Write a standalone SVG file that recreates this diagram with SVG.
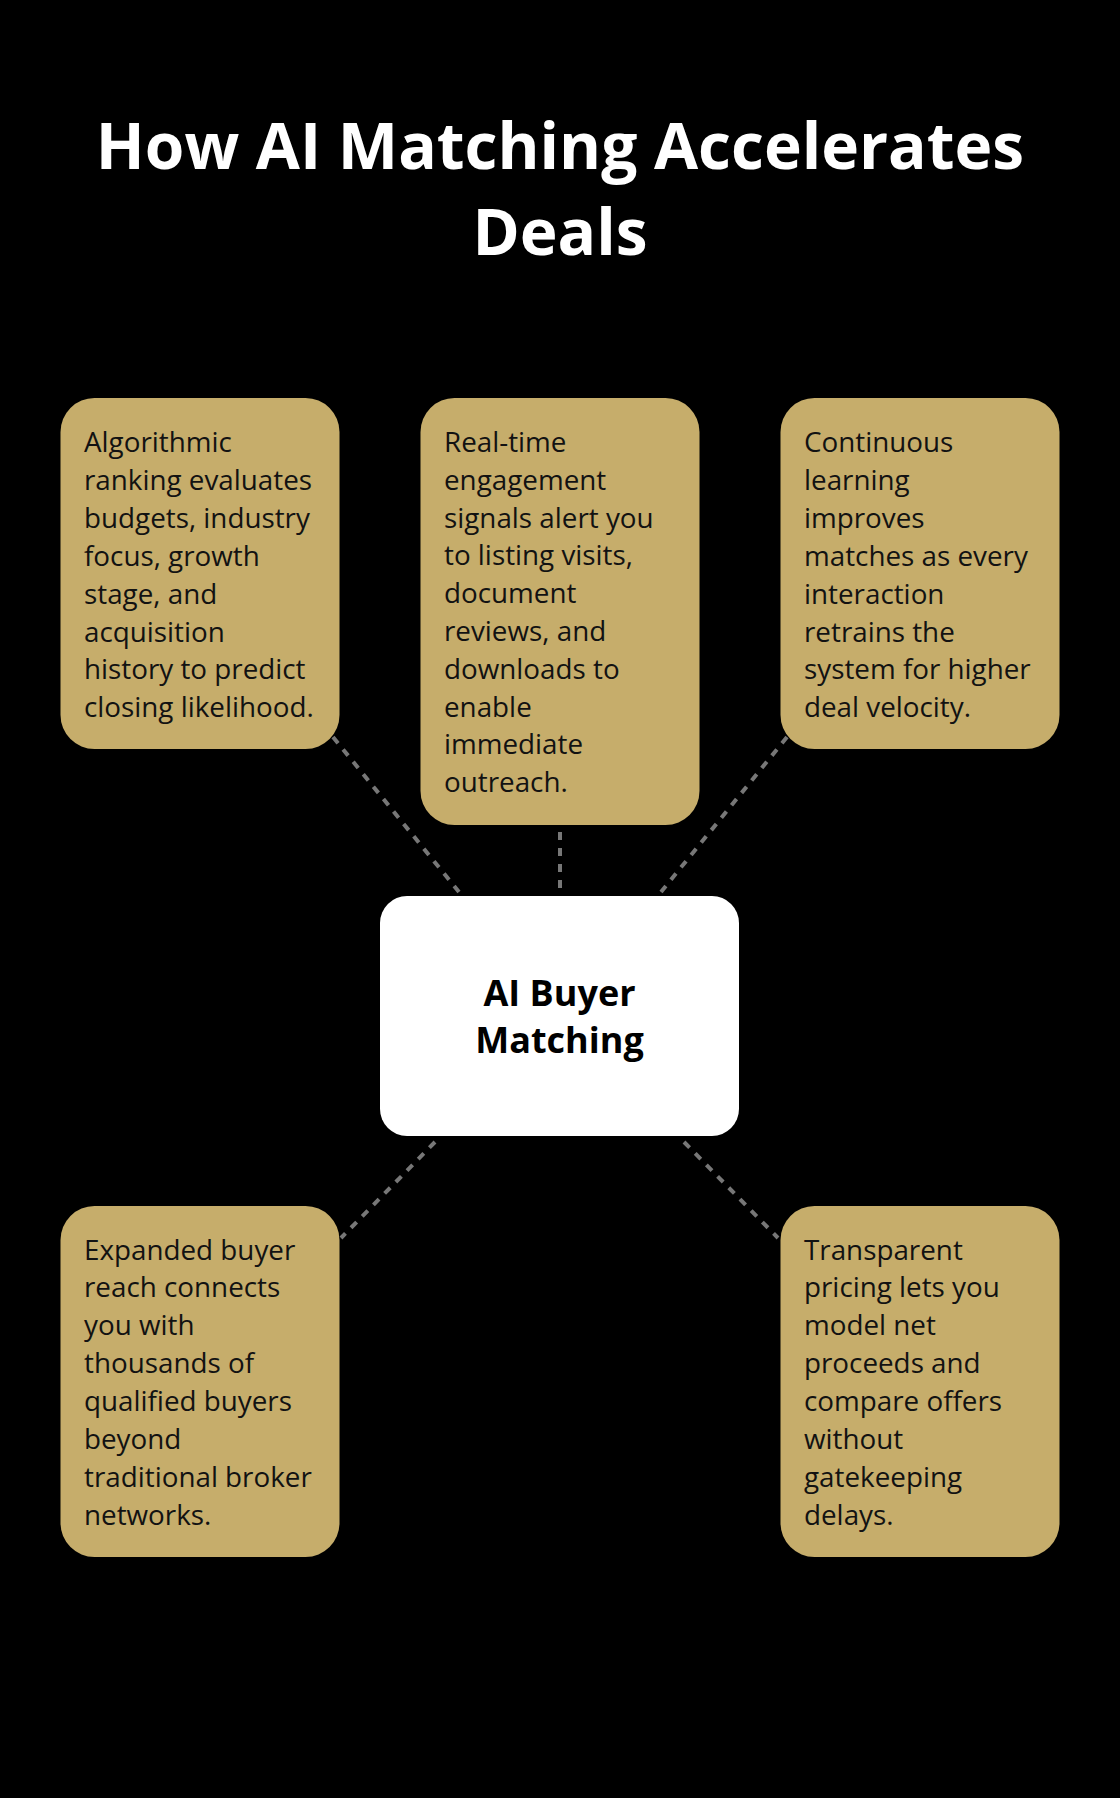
<svg xmlns="http://www.w3.org/2000/svg" width="1120" height="1798" viewBox="0 0 1120 1798">
<defs>
<style>
.bg{fill:#000}
.title{font-family:"Open Sans","Liberation Sans",sans-serif;font-weight:700;font-size:64px;fill:#fff;text-anchor:middle}
.card{fill:#C6AD6B}
.body{font-family:"Open Sans","Liberation Sans",sans-serif;font-size:27.8px;fill:#121212}
.hub{fill:#fff}
.hubtext{font-family:"Open Sans","Liberation Sans",sans-serif;font-weight:700;font-size:36px;fill:#000;text-anchor:middle}
.conn{stroke:#777;stroke-width:4;stroke-dasharray:8 8;fill:none}
</style>
</defs>
<rect class="bg" x="0" y="0" width="1120" height="1798"/>
<g id="title">
<text class="title" x="560" y="169">How AI Matching Accelerates</text>
<text class="title" x="560" y="255">Deals</text>
</g>
<g id="connectors">
<line class="conn" x1="333" y1="737" x2="459" y2="892"/>
<line class="conn" x1="560" y1="832" x2="560" y2="890"/>
<line class="conn" x1="787" y1="737" x2="661" y2="892"/>
<line class="conn" x1="435" y1="1142" x2="341" y2="1238"/>
<line class="conn" x1="684" y1="1142" x2="778" y2="1238"/>
</g>
<g id="node-algorithmic">
<rect class="card" x="60.5" y="398" width="279" height="351" rx="34"/>
<text class="body">
<tspan x="84" y="452">Algorithmic</tspan>
<tspan x="84" y="489.9">ranking evaluates</tspan>
<tspan x="84" y="527.8">budgets, industry</tspan>
<tspan x="84" y="565.7">focus, growth</tspan>
<tspan x="84" y="603.6">stage, and</tspan>
<tspan x="84" y="641.5">acquisition</tspan>
<tspan x="84" y="679.4">history to predict</tspan>
<tspan x="84" y="717.3">closing likelihood.</tspan>
</text>
</g>
<g id="node-realtime">
<rect class="card" x="420.5" y="398" width="279" height="427" rx="34"/>
<text class="body">
<tspan x="444" y="452">Real-time</tspan>
<tspan x="444" y="489.8">engagement</tspan>
<tspan x="444" y="527.6">signals alert you</tspan>
<tspan x="444" y="565.4">to listing visits,</tspan>
<tspan x="444" y="603.2">document</tspan>
<tspan x="444" y="641">reviews, and</tspan>
<tspan x="444" y="678.8">downloads to</tspan>
<tspan x="444" y="716.6">enable</tspan>
<tspan x="444" y="754.4">immediate</tspan>
<tspan x="444" y="792.2">outreach.</tspan>
</text>
</g>
<g id="node-continuous">
<rect class="card" x="780.5" y="398" width="279" height="351" rx="34"/>
<text class="body">
<tspan x="804" y="452">Continuous</tspan>
<tspan x="804" y="489.9">learning</tspan>
<tspan x="804" y="527.8">improves</tspan>
<tspan x="804" y="565.7">matches as every</tspan>
<tspan x="804" y="603.6">interaction</tspan>
<tspan x="804" y="641.5">retrains the</tspan>
<tspan x="804" y="679.4">system for higher</tspan>
<tspan x="804" y="717.3">deal velocity.</tspan>
</text>
</g>
<g id="node-hub">
<rect class="hub" x="380" y="896" width="359" height="240" rx="27"/>
<text class="hubtext" x="559.5" y="1006">AI Buyer</text>
<text class="hubtext" x="559.5" y="1053">Matching</text>
</g>
<g id="node-expanded">
<rect class="card" x="60.5" y="1206" width="279" height="351" rx="34"/>
<text class="body">
<tspan x="84" y="1259.5">Expanded buyer</tspan>
<tspan x="84" y="1297.4">reach connects</tspan>
<tspan x="84" y="1335.3">you with</tspan>
<tspan x="84" y="1373.2">thousands of</tspan>
<tspan x="84" y="1411.1">qualified buyers</tspan>
<tspan x="84" y="1449">beyond</tspan>
<tspan x="84" y="1486.9">traditional broker</tspan>
<tspan x="84" y="1524.8">networks.</tspan>
</text>
</g>
<g id="node-transparent">
<rect class="card" x="780.5" y="1206" width="279" height="351" rx="34"/>
<text class="body">
<tspan x="804" y="1259.5">Transparent</tspan>
<tspan x="804" y="1297.4">pricing lets you</tspan>
<tspan x="804" y="1335.3">model net</tspan>
<tspan x="804" y="1373.2">proceeds and</tspan>
<tspan x="804" y="1411.1">compare offers</tspan>
<tspan x="804" y="1449">without</tspan>
<tspan x="804" y="1486.9">gatekeeping</tspan>
<tspan x="804" y="1524.8">delays.</tspan>
</text>
</g>
</svg>
